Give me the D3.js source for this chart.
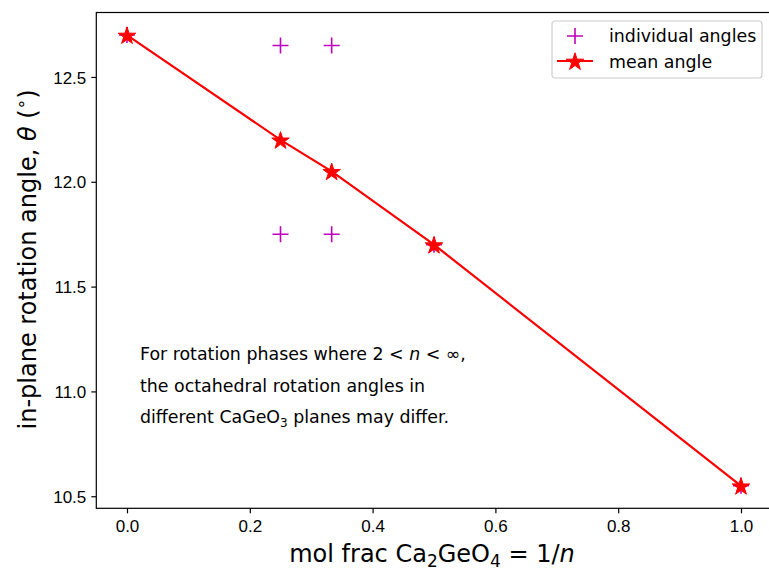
<!DOCTYPE html>
<html>
<head>
<meta charset="utf-8">
<script src="https://cdn.jsdelivr.net/npm/d3@7"></script>
<style>
	body { margin: 0; background: #fff; }
	svg { display: block; font-family: "DejaVu Sans", sans-serif; }
	.axis text { font-size: 17px; fill: #000; }
	.axis path, .axis line { stroke: #000; stroke-width: 1.2px; }
</style>
</head>
<body>
<div id="canvas"></div>
<script>
/* global d3 */

// Data
var molFrac = [0, 0.25, 1 / 3, 0.5, 1.0],
	meanAngle = [12.70, 12.20, 12.05, 11.70, 10.55],
	indivFrac = [0, 0.25, 0.25, 1 / 3, 1 / 3, 0.5, 1.0],
	indivAngle = [12.70, 12.65, 11.75, 12.65, 11.75, 11.70, 10.55],
	xTicks = [0.0, 0.2, 0.4, 0.6, 0.8, 1.0],
	yTicks = [10.5, 11.0, 11.5, 12.0, 12.5];

var width = 769,
	height = 572,
	margin = { top: 12.5, left: 96.3, right: -2.7, bottom: 63.7 },
	magenta = '#bf00bf',
	red = '#ff0000';

var svg = d3.select('#canvas').append('svg')
	.attr('width', width)
	.attr('height', height);

var xScale = d3.scaleLinear()
		.domain([-0.05, 1.05])
		.range([margin.left, width - margin.right]),
	yScale = d3.scaleLinear()
		.domain([10.4425, 12.8075])
		.range([height - margin.bottom, margin.top]);

var plotBottom = height - margin.bottom;

// Clip for plot area
svg.append('clipPath').attr('id', 'plot-clip')
	.append('rect')
	.attr('x', margin.left)
	.attr('y', margin.top)
	.attr('width', width - margin.right - margin.left)
	.attr('height', plotBottom - margin.top);

// Axes
svg.append('g')
	.attr('class', 'axis')
	.attr('transform', 'translate(0,' + plotBottom + ')')
	.call(d3.axisBottom(xScale).tickValues(xTicks).tickFormat(d3.format('.1f'))
		.tickSizeOuter(0).tickSize(5).tickPadding(6))
	.call(function(g) { g.select('.domain').remove(); })
	.selectAll('text').attr('dy', '0.75em');

svg.append('g')
	.attr('class', 'axis')
	.attr('transform', 'translate(' + margin.left + ',0)')
	.call(d3.axisLeft(yScale).tickValues(yTicks).tickFormat(d3.format('.1f'))
		.tickSizeOuter(0).tickSize(5).tickPadding(5))
	.call(function(g) { g.select('.domain').remove(); })
	.selectAll('text').attr('dy', '0.36em');

// Frame
svg.append('rect')
	.attr('x', margin.left)
	.attr('y', margin.top)
	.attr('width', width - margin.right - margin.left)
	.attr('height', plotBottom - margin.top)
	.attr('fill', 'none')
	.attr('stroke', '#000')
	.attr('stroke-width', 1.2);

var plot = svg.append('g').attr('clip-path', 'url(#plot-clip)');

// Individual angles (plus markers)
var plusPath = 'M-8,0H8M0,-8V8';
plot.append('g')
	.selectAll('path')
	.data(indivFrac)
	.enter()
	.append('path')
	.attr('d', plusPath)
	.attr('transform', function(d, i) {
		return 'translate(' + xScale(d) + ',' + yScale(indivAngle[i]) + ')';
	})
	.attr('stroke', magenta)
	.attr('stroke-width', 1.6)
	.attr('fill', 'none');

// Mean angle line
var line = d3.line()
	.x(function(d, i) { return xScale(molFrac[i]); })
	.y(function(d) { return yScale(d); });

plot.append('path')
	.datum(meanAngle)
	.attr('d', line)
	.attr('fill', 'none')
	.attr('stroke', red)
	.attr('stroke-width', 2.2);

var star = d3.symbol().type(d3.symbolStar).size(95);
plot.append('g')
	.selectAll('path')
	.data(meanAngle)
	.enter()
	.append('path')
	.attr('d', star)
	.attr('transform', function(d, i) {
		return 'translate(' + xScale(molFrac[i]) + ',' + (yScale(d) + 1) + ')';
	})
	.attr('fill', red)
	.attr('stroke', red)
	.attr('stroke-width', 1);

// Annotation
var note = svg.append('g').attr('font-size', 17.4).attr('fill', '#000');
var l1 = note.append('text').attr('x', 140).attr('y', 360);
l1.append('tspan').text('For rotation phases where 2 < ');
l1.append('tspan').attr('font-style', 'italic').text('n');
l1.append('tspan').text(' < \u221e,');
note.append('text').attr('x', 140).attr('y', 392)
	.text('the octahedral rotation angles in');
var l3 = note.append('text').attr('x', 140).attr('y', 423);
l3.append('tspan').text('different CaGeO');
l3.append('tspan').attr('font-size', 12).attr('dy', 3.5).text('3');
l3.append('tspan').attr('dy', -3.5).text(' planes may differ.');

// X label
var xl = svg.append('text')
	.attr('x', (margin.left + width - margin.right) / 2 - 2)
	.attr('y', 562)
	.attr('text-anchor', 'middle')
	.attr('font-size', 24);
xl.append('tspan').text('mol frac Ca');
xl.append('tspan').attr('font-size', 17).attr('dy', 5).text('2');
xl.append('tspan').attr('dy', -5).text('GeO');
xl.append('tspan').attr('font-size', 17).attr('dy', 5).text('4');
xl.append('tspan').attr('dy', -5).text(' = 1/');
xl.append('tspan').attr('font-style', 'italic').text('n');

// Y label
var yl = svg.append('text')
	.attr('transform', 'translate(36,' + ((margin.top + plotBottom) / 2 - 1) + ') rotate(-90)')
	.attr('text-anchor', 'middle')
	.attr('font-size', 24);
yl.append('tspan').text('in-plane rotation angle, ');
yl.append('tspan').attr('font-style', 'italic').text('\u03b8');
yl.append('tspan').text(' (');
yl.append('tspan').attr('font-size', 17).attr('dy', -9).text('\u2218');
yl.append('tspan').attr('dy', 9).text(')');

// Legend
var legend = svg.append('g').attr('transform', 'translate(552,21)');
legend.append('rect')
	.attr('width', 210)
	.attr('height', 57)
	.attr('rx', 3)
	.attr('fill', '#fff')
	.attr('fill-opacity', 0.8)
	.attr('stroke', '#cccccc')
	.attr('stroke-width', 1.2);
legend.append('path')
	.attr('d', plusPath)
	.attr('transform', 'translate(23,15)')
	.attr('stroke', magenta)
	.attr('stroke-width', 1.6);
legend.append('line')
	.attr('x1', 5).attr('x2', 41)
	.attr('y1', 40).attr('y2', 40)
	.attr('stroke', red)
	.attr('stroke-width', 2.2);
legend.append('path')
	.attr('d', star)
	.attr('transform', 'translate(23,41)')
	.attr('fill', red)
	.attr('stroke', red);
legend.append('text').attr('x', 57).attr('y', 21).attr('font-size', 17.4)
	.text('individual angles');
legend.append('text').attr('x', 57).attr('y', 47).attr('font-size', 17.4)
	.text('mean angle');
</script>
</body>
</html>
